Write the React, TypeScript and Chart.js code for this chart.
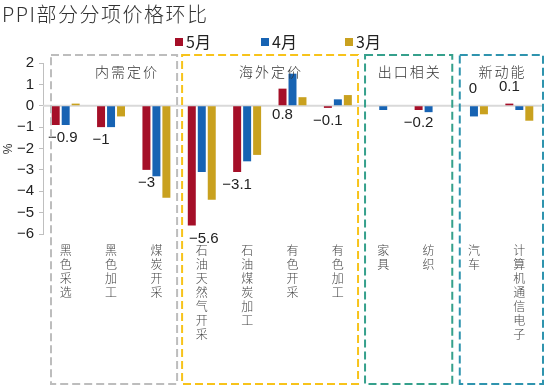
import { useEffect, useRef } from 'react';
import { Chart, registerables } from 'chart.js';

Chart.register(...registerables);

const categories = ['黑色采选', '黑色加工', '煤炭开采', '石油天然气开采', '石油煤炭加工', '有色开采', '有色加工', '家具', '纺织', '汽车', '计算机通信电子'];
const seriesNames = ['5月', '4月', '3月'];
const may: (number | null)[] = [-0.9, -1, -3, -5.6, -3.1, 0.8, -0.1, null, -0.2, 0, 0.1];
const april: (number | null)[] = [-0.9, -1, -3.3, -3.1, -2.6, 1.5, 0.3, -0.2, -0.3, -0.5, -0.2];
const march: (number | null)[] = [0.1, -0.5, -4.3, -4.4, -2.3, 0.4, 0.5, null, null, -0.4, -0.7];
const yMin = -6;
const yMax = 2;
const yStep = 1;
const groupNames = ['内需定价', '海外定价', '出口相关', '新动能'];
const groupFrom = [0, 3, 7, 9];
const groupTo = [2, 6, 8, 10];

const seriesColors = ['#a50f28', '#1763b3', '#c9a11f'];
const groupColors = ['#bdbdbd', '#f7c31b', '#35a08c', '#2f94ae'];
const groupPadL = [8, 3, 4.5, 8.5];
const groupPadR = [-2, -2.5, 1, 1];
const groupLabelDx = [12, 0, 0, 0];
const labelNudgeX: Record<number, number> = { 0: 7, 3: 12, 9: 9 };

const CJK = '"Noto Sans CJK SC", "Noto Sans", sans-serif';
const NUM = '"Liberation Sans", Arial, sans-serif';

const fmt = (v: number) => (v < 0 ? '\u2212' : '') + String(Math.abs(v));

const decorPlugin = {
  id: 'decor',
  beforeDatasetsDraw(chart: any) {
    const { ctx, chartArea, scales } = chart;
    const y0 = scales.y.getPixelForValue(0);
    ctx.save();
    ctx.strokeStyle = '#d9d9d9';
    ctx.lineWidth = 2;
    ctx.beginPath();
    ctx.moveTo(chartArea.left, y0);
    ctx.lineTo(chartArea.right, y0);
    ctx.stroke();
    ctx.restore();
  },
  afterDraw(chart: any) {
    const { ctx, scales } = chart;
    const x = scales.x;
    const half = (x.getPixelForValue(1) - x.getPixelForValue(0)) / 2;
    ctx.save();
    // title
    ctx.fillStyle = '#333';
    ctx.font = `300 20px ${CJK}`;
    ctx.textBaseline = 'middle';
    ctx.textAlign = 'left';
    (ctx as any).letterSpacing = '1.5px';
    ctx.fillText('PPI部分分项价格环比', 2, 14);
    (ctx as any).letterSpacing = '0px';
    // legend
    ctx.font = `16px ${CJK}`;
    const legX = [175, 261, 345];
    seriesNames.forEach((n, i) => {
      ctx.fillStyle = seriesColors[i];
      ctx.fillRect(legX[i], 38, 8, 8);
      ctx.fillStyle = '#222';
      ctx.fillText(n, legX[i] + 11, 42);
    });
    // y title
    ctx.save();
    ctx.translate(9, 149);
    ctx.rotate(-Math.PI / 2);
    ctx.font = `12px ${NUM}`;
    ctx.textAlign = 'center';
    ctx.fillStyle = '#333';
    ctx.fillText('%', 0, 0);
    ctx.restore();
    // group boxes
    groupNames.forEach((g, i) => {
      const l = x.getPixelForValue(groupFrom[i]) - half + groupPadL[i];
      const r = x.getPixelForValue(groupTo[i]) + half + groupPadR[i];
      const t = 55;
      const b = 384;
      ctx.strokeStyle = groupColors[i];
      ctx.lineWidth = 2;
      ctx.setLineDash([8, 4]);
      ctx.strokeRect(l, t, r - l, b - t);
      ctx.setLineDash([]);
      ctx.fillStyle = '#333';
      ctx.font = `300 14px ${CJK}`;
      (ctx as any).letterSpacing = '2px';
      ctx.textAlign = 'center';
      ctx.fillText(g, (l + r) / 2 + groupLabelDx[i] + 1, 72);
      (ctx as any).letterSpacing = '0px';
    });
    ctx.restore();
  },
  afterDatasetsDraw(chart: any) {
    const { ctx, scales } = chart;
    const meta = chart.getDatasetMeta(0);
    const y0 = scales.y.getPixelForValue(0);
    ctx.save();
    ctx.font = `15px ${NUM}`;
    ctx.fillStyle = '#222';
    ctx.textAlign = 'center';
    ctx.textBaseline = 'middle';
    may.forEach((v, i) => {
      if (v === null) return;
      const el = meta.data[i];
      const px = el.x + (labelNudgeX[i] || 0);
      let py: number;
      if (v < 0) py = el.y + 13;
      else if (v >= 0.5) py = y0 + 9;
      else py = el.y - 17;
      ctx.fillText(fmt(v), px, py);
    });
    ctx.restore();
  },
};

export default function App() {
  const ref = useRef<HTMLCanvasElement>(null);
  useEffect(() => {
    document.body.style.margin = '0';
    const chart = new Chart(ref.current as HTMLCanvasElement, {
      type: 'bar',
      data: {
        labels: categories.map((c) => c.split('')),
        datasets: [may, april, march].map((d, i) => ({
          label: seriesNames[i],
          data: d,
          backgroundColor: seriesColors[i],
          categoryPercentage: 0.66,
          barPercentage: 0.8,
        })),
      },
      options: {
        responsive: false,
        animation: false,
        layout: { padding: { top: 63, right: 8, left: 0, bottom: 0 } },
        plugins: { legend: { display: false }, title: { display: false }, tooltip: { enabled: false } },
        scales: {
          x: {
            grid: { display: false, drawTicks: false },
            border: { display: false },
            ticks: {
              autoSkip: false,
              maxRotation: 0,
              minRotation: 0,
              padding: 9,
              color: '#444',
              font: { family: CJK, size: 12, lineHeight: 1.17, weight: '300' },
            },
            afterFit: (s: any) => { s.height = 156; },
          },
          y: {
            min: yMin,
            max: yMax,
            ticks: {
              stepSize: yStep,
              color: '#222',
              padding: 5,
              font: { family: NUM, size: 15 },
              callback: (v: any) => fmt(Number(v)),
            },
            grid: { drawOnChartArea: false, tickLength: 4, color: '#bfbfbf' },
            border: { color: '#bfbfbf' },
            afterFit: (s: any) => { s.width = 43; },
          },
        },
      },
      plugins: [decorPlugin],
    });
    return () => chart.destroy();
  }, []);
  return (
    <div style={{ width: 550, height: 390 }}>
      <canvas ref={ref} width={550} height={390} />
    </div>
  );
}
